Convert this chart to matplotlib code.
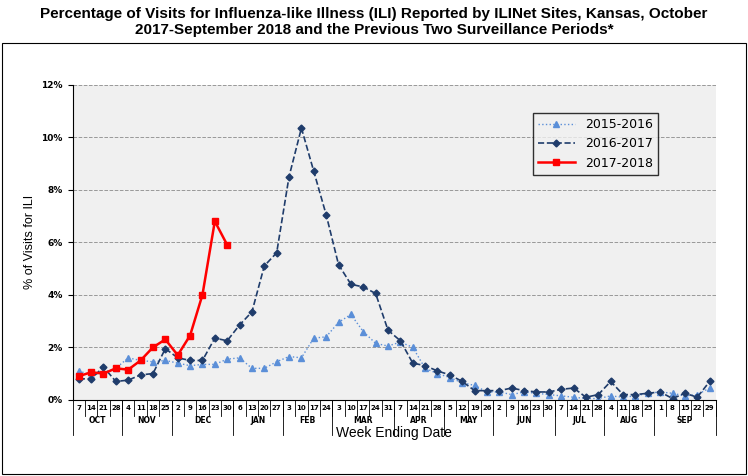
import numpy as np
import matplotlib.pyplot as plt

days = [7, 14, 21, 28, 4, 11, 18, 25, 2, 9, 16, 23, 30, 6, 13, 20, 27, 3, 10, 17, 24,
        3, 10, 17, 24, 31, 7, 14, 21, 28, 5, 12, 19, 26, 2, 9, 16, 23, 30, 7, 14, 21, 28,
        4, 11, 18, 25, 1, 8, 15, 22, 29]
months = ["OCT", "NOV", "DEC", "JAN", "FEB", "MAR", "APR", "MAY", "JUN", "JUL", "AUG", "SEP"]
month_weeks = [4, 4, 5, 4, 4, 5, 4, 4, 5, 4, 4, 5]

s1516 = [1.1, 0.95, 1.05, 1.2, 1.6, 1.5, 1.45, 1.5, 1.4, 1.3, 1.35, 1.35, 1.55, 1.6, 1.2, 1.2,
         1.45, 1.65, 1.6, 2.35, 2.4, 2.95, 3.25, 2.6, 2.15, 2.05, 2.2, 2.0, 1.2, 1.0, 0.85, 0.65,
         0.55, 0.3, 0.3, 0.2, 0.3, 0.25, 0.2, 0.15, 0.1, 0.05, 0.05, 0.15, 0.1, 0.15, 0.25, 0.3,
         0.25, 0.15, 0.2, 0.45]
s1617 = [0.8, 0.8, 1.25, 0.7, 0.75, 0.95, 1.0, 1.95, 1.6, 1.5, 1.5, 2.35, 2.25, 2.85, 3.35, 5.1,
         5.6, 8.5, 10.35, 8.7, 7.05, 5.15, 4.4, 4.3, 4.05, 2.65, 2.25, 1.4, 1.3, 1.1, 0.95, 0.7,
         0.35, 0.35, 0.35, 0.45, 0.35, 0.3, 0.3, 0.4, 0.45, 0.1, 0.2, 0.7, 0.2, 0.2, 0.25, 0.3,
         0.05, 0.25, 0.1, 0.7]
s1718 = [0.9, 1.05, 1.0, 1.2, 1.15, 1.5, 2.0, 2.3, 1.7, 2.45, 4.0, 6.8, 5.9]

fig = plt.figure(figsize=(7.48, 4.76), dpi=100)
fig.patches.append(plt.Rectangle((0.003, 0.005), 0.994, 0.905, transform=fig.transFigure,
                                 fill=False, edgecolor="black", linewidth=0.8))
fig.text(0.5, 0.985, "Percentage of Visits for Influenza-like Illness (ILI) Reported by ILINet Sites, Kansas, October\n"
         "2017-September 2018 and the Previous Two Surveillance Periods*",
         ha="center", va="top", fontsize=11, fontweight="bold", family="Liberation Sans")

ax = fig.add_axes([0.097, 0.16, 0.86, 0.662])
ax.set_facecolor("#f0f0f0")
x = np.arange(len(days))
ax.plot(x, s1516, linestyle=":", color="#5b8fd8", marker="^", markersize=4, linewidth=1, label="2015-2016")
ax.plot(np.arange(len(s1617)), s1617, linestyle="--", color="#1f3c6b", marker="D", markersize=3.5,
        linewidth=1.2, label="2016-2017")
ax.plot(np.arange(len(s1718)), s1718, color="#ff0000", marker="s", markersize=5, linewidth=1.8,
        label="2017-2018")
ax.set_xlim(-0.5, len(days) - 0.5)
ax.set_ylim(0, 12)
ax.set_yticks(range(0, 13, 2))
ax.set_yticklabels([f"{v}%" for v in range(0, 13, 2)], fontsize=6.5, fontweight="bold")
ax.yaxis.grid(True, linestyle="--", color="#999999", linewidth=0.7)
ax.set_ylabel("% of Visits for ILI", fontsize=9, family="Liberation Sans")
ax.set_xticks([])
for s in ["top", "right"]:
    ax.spines[s].set_visible(False)

tr = ax.get_xaxis_transform()
for i, d in enumerate(days):
    ax.text(i, -0.025, str(d), transform=tr, ha="center", va="center", fontsize=5, fontweight="bold")
    ax.plot([i + 0.5, i + 0.5], [0, -0.05], transform=tr, color="black", linewidth=0.6, clip_on=False)
start = 0
for m, n in zip(months, month_weeks):
    ax.text(start + n / 2 - 0.5, -0.065, m, transform=tr, ha="center", va="center", fontsize=5.5,
            fontweight="bold")
    ax.plot([start - 0.5, start - 0.5], [0, -0.11], transform=tr, color="black", linewidth=0.6, clip_on=False)
    start += n
ax.plot([start - 0.5, start - 0.5], [0, -0.11], transform=tr, color="black", linewidth=0.6, clip_on=False)
ax.text(len(days) / 2 - 0.5, -0.105, "Week Ending Date", transform=tr, ha="center", va="center",
        fontsize=10, family="Liberation Sans")

leg = ax.legend(loc="upper right", bbox_to_anchor=(0.92, 0.93), fontsize=9, frameon=True,
                fancybox=False, edgecolor="black", facecolor="#f0f0f0", handlelength=3)
fig.savefig("out.png")
